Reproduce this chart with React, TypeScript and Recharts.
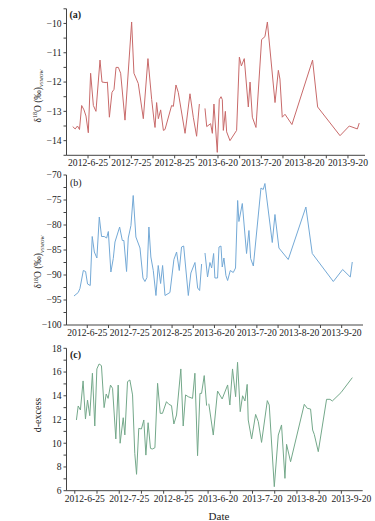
import React from 'react';
import { LineChart, Line, XAxis, YAxis } from 'recharts';

const FONT = '"Liberation Serif", "Times New Roman", serif';
const AXIS = '#444';

const dateTicks = [0, 30, 60, 90, 120, 150, 180];
const dateLabels = ['2012-6-25', '2012-7-25', '2012-8-25', '2013-6-20', '2013-7-20', '2013-8-20', '2013-9-20'];
const xMinorTicks = [0, 15, 30, 45, 60, 75, 90, 105, 120, 135, 150, 165, 180];

// Panel (a): δ18O
const aDays = [
  -10.6, -8.9, -7.3, -5.9, -4.4, -2.8, -1.4, 0.2, 1.8, 3.7,
  5.5, 8.3, 9.7, 12.5, 13.4, 14.8, 16.6, 18.0, 19.4, 21.0,
  22.6, 25.6, 30.2, 31.8, 34.8, 38.3, 41.5, 44.1, 45.7, 46.4,
  47.5, 48.7, 50.3, 52.2, 53.3, 57.9, 59.1, 60.9, 62.5, 67.2,
  70.6, 72.9, 75.2, 77.1, 79.0, 81.0, 82.2, 84.9, 86.1, 87.2,
  89.5, 90.9, 92.1, 93.0, 93.7, 95.1, 96.0, 98.3, 102.9, 104.8,
  106.2, 108.2, 111.0, 112.2, 113.8, 116.3, 120.2, 122.5, 124.2, 129.5,
  131.8, 132.9, 134.5, 136.4, 141.2, 155.5, 159.0, 174.5, 180.9, 186.5,
  187.8,
];
const aValues = [
  -13.52, -13.6, -13.5, -13.62, -12.8, -12.95, -13.16, -13.73, -11.7, -12.8,
  -13.0, -11.25, -12.0, -12.02, -12.0, -13.2, -12.35, -12.25, -11.5, -11.5,
  -11.7, -13.3, -9.95, -11.7, -12.05, -13.25, -11.2, -12.6, -13.3, -13.55,
  -12.7, -13.25, -12.95, -13.65, -13.62, -12.8, -12.83, -12.1, -12.35, -13.75,
  -12.4, -13.2, -13.85, -12.75, null, -12.9, -13.52, -13.42, -13.75, -12.75,
  -14.4, -12.6, -12.5, -12.6, -13.65, -13.0, -13.7, -14.0, -13.65, -11.15,
  -11.45, -11.2, -12.85, -12.0, -13.2, -13.55, -10.55, -10.45, -9.95, -12.7,
  -11.6, -11.9, -13.2, -13.1, -13.45, -11.25, -12.85, -13.83, -13.5, -13.6,
  -13.4,
];

// Panel (b)
const bDays = [
  -9.4, -6.4, -5.2, -2.8, -1.2, 0.2, 2.1, 3.5, 5.0, 6.8,
  8.5, 10.1, 12.0, 13.7, 14.9, 16.7, 18.4, 19.6, 22.9, 24.8,
  25.9, 27.8, 29.0, 30.9, 32.5, 34.4, 37.3, 39.4, 40.8, 42.2,
  43.6, 45.0, 46.7, 48.6, 50.2, 51.9, 53.3, 55.0, 58.5, 61.3,
  63.2, 65.1, 66.7, 68.2, 71.5, 73.3, 76.2, 78.1, 79.5, 80.9,
  82.1,
  83.3, 85.1, 86.8, 88.0, 89.4, 90.3, 92.2, 93.2, 94.6, 95.5,
  96.7, 98.1, 99.3, 101.2, 103.3, 104.9, 106.4, 107.3, 109.7, 112.7,
  114.4, 115.6, 117.5, 122.9, 124.5, 125.7, 130.9, 132.8, 135.6, 142.2,
  154.7, 159.2, 174.1, 180.7, 186.1, 187.5,
];
const bValues = [
  -94.2, -93.5, -92.7, -89.1, -89.3, -91.8, -92.1, -82.3, -85.4, -86.6,
  -78.4, -82.3, -82.3, -82.6, -81.3, -89.4, -86.7, -83.4, -80.4, -83.1,
  -83.1, -89.3, -82.6, -80.1, -74.1, -82.4, -84.6, -90.6, -91.3, -90.5,
  -80.4, -86.4, -89.1, -94.1, -88.1, -91.7, -88.1, -94.1, -93.5, -86.9,
  -85.4, -89.1, -84.4, -84.2, -94.1, -89.6, -87.5, -92.6, -93.1, -87.8,
  null,
  -85.6, -90.4, -87.5, -88.6, -85.7, -90.6, -90.6, -84.4, -84.2, -88.4,
  -86.6, -90.1, -91.1, -89.1, -89.5, -88.6, -75.1, -79.3, -75.7, -85.7,
  -81.1, -86.7, -88.2, -72.6, -72.9, -71.7, -83.5, -77.9, -84.6, -86.9,
  -76.4, -85.7, -91.3, -88.9, -90.4, -87.4,
];

// Panel (c): d-excess
const cDays = [
  1.1, 2.3, 3.8, 5.6, 7.2, 8.6, 10.1, 11.9, 13.5, 14.9,
  16.4, 18.0, 19.8, 21.2, 22.5, 24.1, 25.5, 27.7, 29.3, 30.6,
  32.7, 33.8, 35.6, 37.2, 39.0, 40.5, 41.7, 43.2, 45.0, 46.6,
  48.0, 49.5, 51.1, 52.3, 54.1, 55.9, 57.7, 59.2, 61.9, 63.5,
  65.3, 66.9, 68.7, 71.6, 73.2, 74.8, 76.6, 79.5, 81.1, 82.9,
  84.5, 85.6, 87.4, 89.0, 89.8, 90.5,
  93.5, 96.4, 99.5, 103.2, 104.7, 106.5, 108.6, 109.9, 111.7, 113.3,
  114.9, 116.4, 117.1, 119.4, 122.1, 123.9, 126.1, 130.0, 131.3, 134.7,
  137.4, 139.6, 141.9, 143.0, 145.7, 154.95, 157.0, 159.2, 160.6, 161.7,
  164.4, 170.0, 172.3, 173.9, 179.7, 187.4,
];
const cValues = [
  11.96, 13.14, 12.8, 15.25, 12.04, 13.64, 12.32, 15.9, 11.45, 16.26,
  16.68, 16.54, 13.0, 14.15, 13.78, 14.9, 14.63, 10.36, 14.9, 10.0,
  12.15, 10.7, 15.19, 15.33, 14.07, 9.15, 7.38, 11.25, 11.2, 11.96,
  9.0, 11.73, 9.57, 9.51, 9.62, 15.05, 12.52, 12.52, 13.5, 13.28,
  13.17, 11.62, 12.38, 16.26, 11.45, 14.07, 13.92, 13.78, 15.9, 8.95,
  14.2, 14.2, 15.7, 13.17, null, 13.33,
  10.69, 14.4, 13.73, 14.91, 13.22, 16.26, 13.92, 16.82, 12.66, 14.0,
  13.56, 14.96, 11.96, 10.36, 12.43, 11.82, 10.07, 13.59, 13.22, 6.34,
  10.69, 11.54, 7.04, 9.91, 8.44, 13.28, 12.94, 12.88, 11.11, 10.75,
  9.29, 13.7, 13.7, 13.56, 14.26, 15.53,
];

const aYTicks = [-14.5, -14, -13.5, -13, -12.5, -12, -11.5, -11, -10.5, -10, -9.5];
const bYTicks = [-100, -97.5, -95, -92.5, -90, -87.5, -85, -82.5, -80, -77.5, -75, -72.5, -70];
const cYTicks = [6, 7, 8, 9, 10, 11, 12, 13, 14, 15, 16, 17, 18];

const zip = (xs: number[], ys: (number | null)[]) => xs.map((x, i) => ({ x, y: ys[i] }));
const aData = zip(aDays, aValues);
const bData = zip(bDays, bValues);
const cData = zip(cDays, cValues);

const minus = (v: number) => (v < 0 ? '\u2212' + Math.abs(v) : String(v));

const makeDateTick = (dx: number) => (props: any) => {
  const { x, y, payload } = props;
  const i = dateTicks.indexOf(payload.value);
  if (i < 0) return <g />;
  return (
    <text x={x + dx} y={y} dy="0.71em" textAnchor="middle" fontSize={9.6} fontFamily={FONT} fill="#222">
      {dateLabels[i]}
    </text>
  );
};

const yTickStyle = { fontSize: 9.6, fontFamily: FONT, fill: '#222' };

type PanelProps = {
  data: { x: number; y: number | null }[];
  top: number;
  height: number;
  margin: { top: number; right: number; bottom: number; left: number };
  xDomain: [number, number];
  yDomain: [number, number];
  yTicks: number[];
  yFmt: (v: number) => string;
  color: string;
  labelDx: number;
};

const Panel = ({ data, top, height, margin, xDomain, yDomain, yTicks, yFmt, color, labelDx }: PanelProps) => (
  <div style={{ position: 'absolute', left: 0, top }}>
    <LineChart width={375} height={height} data={data} margin={margin}>
      <XAxis
        type="number"
        dataKey="x"
        domain={xDomain}
        ticks={xMinorTicks}
        allowDataOverflow
        height={20}
        tickSize={3}
        tickMargin={1}
        stroke={AXIS}
        tick={makeDateTick(labelDx)}
        interval={0}
      />
      <XAxis
        xAxisId="t"
        orientation="top"
        type="number"
        dataKey="x"
        domain={xDomain}
        ticks={xMinorTicks}
        allowDataOverflow
        height={0}
        tickSize={3}
        stroke={AXIS}
        tickFormatter={() => ''}
        interval={0}
      />
      <YAxis
        type="number"
        domain={yDomain}
        ticks={yTicks}
        allowDataOverflow
        width={40}
        tickSize={3}
        tickMargin={2}
        stroke={AXIS}
        tick={yTickStyle}
        tickFormatter={yFmt}
        interval={0}
      />
      <YAxis
        yAxisId="r"
        orientation="right"
        type="number"
        domain={yDomain}
        ticks={yTicks}
        allowDataOverflow
        width={0}
        tickSize={3}
        stroke={AXIS}
        tickFormatter={() => ''}
        interval={0}
      />
      <Line
        type="linear"
        dataKey="y"
        stroke={color}
        strokeWidth={1}
        dot={false}
        connectNulls={false}
        isAnimationActive={false}
      />
    </LineChart>
  </div>
);

const D18OTitle = ({ x, y }: { x: number; y: number }) => (
  <text transform={`translate(${x},${y}) rotate(-90)`} textAnchor="middle" fontSize={9.5} fontFamily={FONT} fill="#222">
    δ<tspan dy={-3.5} fontSize={6}>18</tspan>
    <tspan dy={3.5}>O (‰)</tspan>
    <tspan dy={2.5} fontSize={5} fontStyle="italic">VSMOW</tspan>
  </text>
);

export default function App() {
  return (
    <div style={{ position: 'absolute', left: 0, top: 0, width: 375, height: 521, background: '#fff' }}>
      <Panel
        data={aData}
        top={0}
        height={176}
        margin={{ top: 8.8, right: 10, bottom: 0.7, left: 26.5 }}
        xDomain={[-14.9, 191.8]}
        yDomain={[-14.5, -9.5]}
        yTicks={aYTicks}
        yFmt={(v) => (Number.isInteger(v) ? minus(v) : '')}
        color="#c86a6a"
        labelDx={0}
      />
      <Panel
        data={bData}
        top={165}
        height={185}
        margin={{ top: 10, right: 12, bottom: 5, left: 26.5 }}
        xDomain={[-14.7, 195.1]}
        yDomain={[-100, -70]}
        yTicks={bYTicks}
        yFmt={(v) => (v % 5 === 0 ? minus(v) : '')}
        color="#74a9d6"
        labelDx={0}
      />
      <Panel
        data={cData}
        top={340}
        height={181}
        margin={{ top: 8.3, right: 12.3, bottom: 10.3, left: 26.5 }}
        xDomain={[-5.6, 194.4]}
        yDomain={[6, 18]}
        yTicks={cYTicks}
        yFmt={(v) => (v % 2 === 0 ? String(v) : '')}
        color="#74a88a"
        labelDx={10}
      />
      <svg width={375} height={521} style={{ position: 'absolute', left: 0, top: 0, pointerEvents: 'none' }}>
        <D18OTitle x={40.5} y={96} />
        <D18OTitle x={41} y={262} />
        <text transform="translate(40.5,415) rotate(-90)" textAnchor="middle" fontSize={10} fontFamily={FONT} fill="#222">
          d-excess
        </text>
        <text x={69.5} y={18} fontSize={10} fontWeight="bold" fontFamily={FONT} fill="#222">(a)</text>
        <text x={70} y={185.5} fontSize={10} fontFamily={FONT} fill="#222">(b)</text>
        <text x={70} y={358} fontSize={10} fontWeight="bold" fontFamily={FONT} fill="#222">(c)</text>
        <text x={219} y={519.5} textAnchor="middle" fontSize={11} fontFamily={FONT} fill="#222">Date</text>
      </svg>
    </div>
  );
}
